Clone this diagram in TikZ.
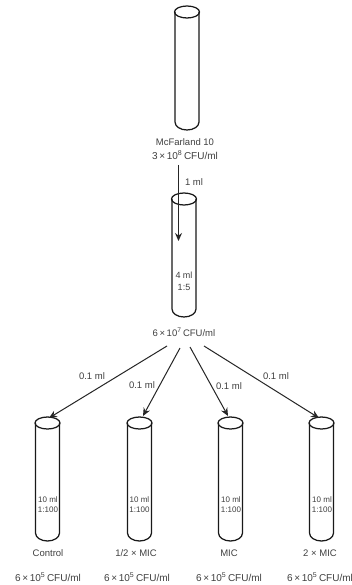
\documentclass[tikz,border=0pt]{standalone}
\usepackage{fontspec}
\setmainfont{Liberation Sans}
\usetikzlibrary{arrows.meta}
\definecolor{lab}{gray}{0.25}
\tikzset{
  tubeline/.style={draw=black!90,line width=1.25pt},
  lab/.style={inner sep=0pt,text=lab,font=\fontsize{9.5}{11}\selectfont,align=center},
  cfulab/.style={inner sep=0pt,text=lab,font=\fontsize{10}{11}\selectfont,align=center},
  small/.style={inner sep=0pt,text=lab,font=\fontsize{8}{10}\selectfont,align=center},
  mid/.style={inner sep=0pt,text=lab,font=\fontsize{9}{12}\selectfont,align=center},
  flow/.style={draw=black!85,line width=1pt,-{Stealth[length=8pt,width=7pt]}},
  pics/testtube/.style={code={
    \draw[tubeline] (-12,0) -- (-12,#1-8) arc[start angle=180,end angle=360,x radius=12,y radius=-8] -- (12,0);
    \draw[tubeline] (0,0) ellipse[x radius=12.5,y radius=6];
  }},
}
\newcommand{\cfu}[2]{#1\,×\,10\textsuperscript{#2}\,CFU/ml}
\begin{document}
\begin{tikzpicture}[x=1pt,y=-1pt]
\useasboundingbox[fill=white] (0,0) rectangle (352,585);
\pic at (187,12) {testtube=118};
\pic at (184,199) {testtube=118};
\pic at (47.5,423) {testtube=118};
\pic at (139.5,423) {testtube=118};
\pic at (230.5,423) {testtube=118};
\pic at (321.5,423) {testtube=118};
\node[lab] (mcf) at (185,142) {McFarland 10};
\node[cfulab] (c1) at (185,155) {\cfu{3}{8}};
\node[lab] (oneml) at (194,182) {1 ml};
\coordinate (s0) at (178.5,165);
\coordinate (e0) at (178.5,241);
\draw[flow] (s0) -- (e0);
\node[mid] (t2) at (184,281) {4 ml\\1:5};
\node[lab] (c2) at (184,332) {\cfu{6}{7}};
\coordinate (s1) at (167,346);
\coordinate (s2) at (180,348);
\coordinate (s3) at (190,347);
\coordinate (s4) at (204,346);
\coordinate (e1) at (49,418);
\coordinate (e2) at (143,416);
\coordinate (e3) at (228,416);
\coordinate (e4) at (319,418);
\draw[flow] (s1) -- (e1);
\draw[flow] (s2) -- (e2);
\draw[flow] (s3) -- (e3);
\draw[flow] (s4) -- (e4);
\node[lab] (l1) at (92,376) {0.1 ml};
\node[lab] (l2) at (142,385) {0.1 ml};
\node[lab] (l3) at (229,386) {0.1 ml};
\node[lab] (l4) at (276,376) {0.1 ml};
\node[small] (t3) at (48,505) {10 ml\\1:100};
\node[small] (t4) at (139.5,505) {10 ml\\1:100};
\node[small] (t5) at (231,505) {10 ml\\1:100};
\node[small] (t6) at (322,505) {10 ml\\1:100};
\node[lab] (n1) at (48,553) {Control};
\node[lab] (n2) at (136,553) {1/2 × MIC};
\node[lab] (n3) at (229,553) {MIC};
\node[lab] (n4) at (320,553) {2 × MIC};
\node[cfulab] (d1) at (48,577) {\cfu{6}{5}};
\node[cfulab] (d2) at (137,577) {\cfu{6}{5}};
\node[cfulab] (d3) at (229,577) {\cfu{6}{5}};
\node[cfulab] (d4) at (320,577) {\cfu{6}{5}};
\end{tikzpicture}
\end{document}
